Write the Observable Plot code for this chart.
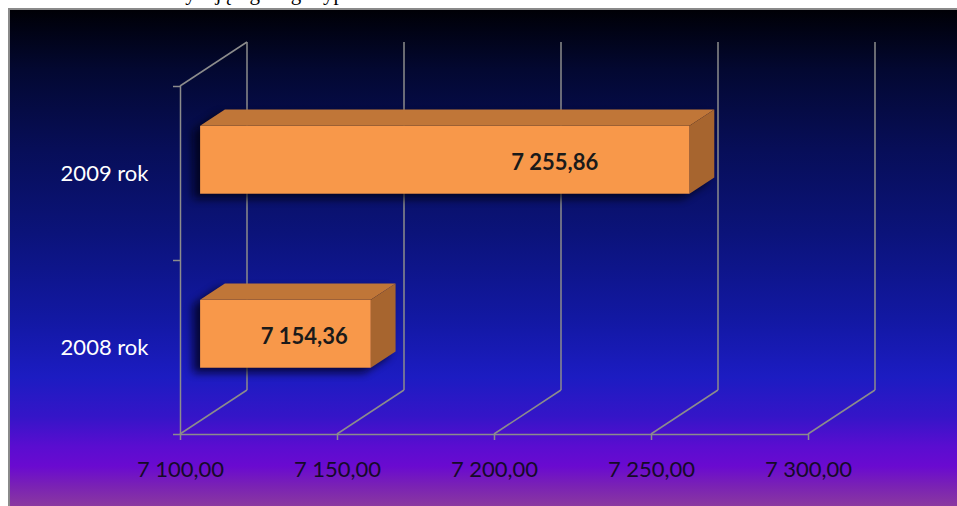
<!DOCTYPE html>
<html>
<head>
<meta charset="utf-8">
<script src="https://cdn.jsdelivr.net/npm/d3@7"></script>
<script src="https://cdn.jsdelivr.net/npm/@observablehq/plot@0.6"></script>
<style>
  html, body { margin: 0; padding: 0; background: #fff; width: 957px; height: 506px; overflow: hidden; }
  #wrap { position: relative; width: 957px; height: 506px; }
  #caption { position: absolute; left: 0; top: 0; width: 957px; height: 8px; overflow: hidden; }
  #caption span { position: absolute; left: 4px; top: -17px; font-family: "Liberation Serif", "DejaVu Serif", serif; font-size: 21px; line-height: 21px; white-space: nowrap; color: #000; }
  #bg { position: absolute; left: 8px; top: 8px; width: 949px; height: 498px; box-sizing: border-box;
        border-left: 2px solid #8a8a8a; border-top: 2px solid #8a8a8a;
        background: linear-gradient(to bottom, #000006 0%, #030831 12%, #070e58 28%, #0b137a 45%, #1218a2 62%, #1c1cc2 74%, #3515c8 82%, #5a0dd0 88%, #6a0ad0 92%, #7a22b4 96%, #8a38a0 100%); }
  #chart { position: absolute; left: 0; top: 0; }
</style>
</head>
<body>
<div id="wrap">
  <div id="bg"></div>
  <div id="caption"><span>zestawienie charakteryzującego tego typu dochodów</span></div>
  <div id="chart"></div>
</div>
<script>
// ---- data ----
const categories = ["2008 rok", "2009 rok"];
const values = [7154.36, 7255.86];
const valueLabels = ["7 154,36", "7 255,86"];
const xTicks = [7100, 7150, 7200, 7250, 7300];
const tickLabels = ["7 100,00", "7 150,00", "7 200,00", "7 250,00", "7 300,00"];

const rows = categories.map((c, i) => ({ cat: c, i, value: values[i], label: valueLabels[i] }));

// ---- 3D styling geometry ----
const DX = 67, DY = -44;          // depth of the 3D wall in pixels
const F = 0.3, B = 0.67;          // bar front / back depth fractions
const HALF = 0.195;               // half bar thickness (category units)
const GRID = "#8c8c8c";
const FRONT = "#F8984A", TOP = "#C07638", SIDE = "#A7652F";

function wall(index, { x, y }) {
  const g = d3.create("svg:g").attr("stroke", GRID).attr("stroke-width", 1.5).attr("fill", "none");
  const yb = y(0), yt = y(2);
  for (const t of xTicks) {
    const px = x(t);
    g.append("line").attr("x1", px + DX).attr("y1", yt + DY).attr("x2", px + DX).attr("y2", yb + DY);
    g.append("line").attr("x1", px).attr("y1", yb).attr("x2", px + DX).attr("y2", yb + DY);
  }
  const p0 = x(xTicks[0]);
  g.append("line").attr("x1", p0).attr("y1", yt).attr("x2", p0 + DX).attr("y2", yt + DY);
  return g.node();
}

function bars3d(index, { x, y }) {
  const g = d3.create("svg:g");
  const filt = g.append("defs").append("filter").attr("id", "barShadow")
    .attr("x", "-30%").attr("y", "-60%").attr("width", "160%").attr("height", "220%");
  filt.append("feGaussianBlur").attr("stdDeviation", 4);
  const poly = pts => "M" + pts.map(p => p.join(",")).join("L") + "Z";
  for (const d of rows) {
    const xa = x(xTicks[0]), xb = x(d.value);
    const yTop = y(d.i + 0.5 + HALF), yBot = y(d.i + 0.5 - HALF);
    const fx = DX * F, fy = DY * F, bx = DX * B, by = DY * B;
    const sil = [[xa + fx, yTop + fy], [xa + bx, yTop + by], [xb + bx, yTop + by], [xb + bx, yBot + by], [xb + fx, yBot + fy], [xa + fx, yBot + fy]];
    g.append("path").attr("d", poly(sil)).attr("fill", "#000010").attr("opacity", 0.75)
      .attr("transform", "translate(-7,5)").attr("filter", "url(#barShadow)");
    g.append("path").attr("d", poly([[xa + fx, yTop + fy], [xb + fx, yTop + fy], [xb + bx, yTop + by], [xa + bx, yTop + by]]))
      .attr("fill", TOP);
    g.append("path").attr("d", poly([[xb + fx, yTop + fy], [xb + bx, yTop + by], [xb + bx, yBot + by], [xb + fx, yBot + fy]]))
      .attr("fill", SIDE);
  }
  return g.node();
}

const chart = Plot.plot({
  width: 957,
  height: 506,
  marginLeft: 180,
  marginRight: 149,
  marginTop: 86,
  marginBottom: 72,
  x: { domain: [xTicks[0], xTicks[xTicks.length - 1]], label: null },
  y: { domain: [0, 2], label: null },
  style: { background: "transparent", fontFamily: "Lato, 'Open Sans', sans-serif", fontSize: "22px", overflow: "visible" },
  marks: [
    wall,
    Plot.ruleY([0], { stroke: GRID, strokeWidth: 1.5 }),
    Plot.ruleX([xTicks[0]], { stroke: GRID, strokeWidth: 1.5 }),
    Plot.axisY([0, 1, 2], { tickSize: 7, tickFormat: () => "", label: null, stroke: GRID, strokeWidth: 1.5 }),
    Plot.axisY([0.5, 1.5], { tickSize: 0, tickPadding: 32, label: null, tickFormat: v => categories[Math.floor(v)], fill: "#ffffff", fontSize: 22 }),
    Plot.axisX(xTicks, { tickSize: 6, tickPadding: 21, label: null, tickFormat: v => tickLabels[xTicks.indexOf(v)], stroke: GRID, strokeWidth: 1.5, fill: "#150a28", fontSize: 22 }),
    bars3d,
    Plot.rectX(rows, {
      x1: () => xTicks[0], x2: "value",
      y1: d => d.i + 0.5 - HALF, y2: d => d.i + 0.5 + HALF,
      dx: DX * F, dy: DY * F, fill: FRONT
    }),
    Plot.text(rows, {
      x: d => xTicks[0] + (d.value - xTicks[0]) * 0.786,
      y: d => d.i + 0.5,
      text: "label", dx: -10.5, dy: -11,
      fill: "#1a1a1a", fontWeight: "bold", fontSize: 22
    })
  ]
});
document.getElementById("chart").appendChild(chart);
</script>
</body>
</html>
